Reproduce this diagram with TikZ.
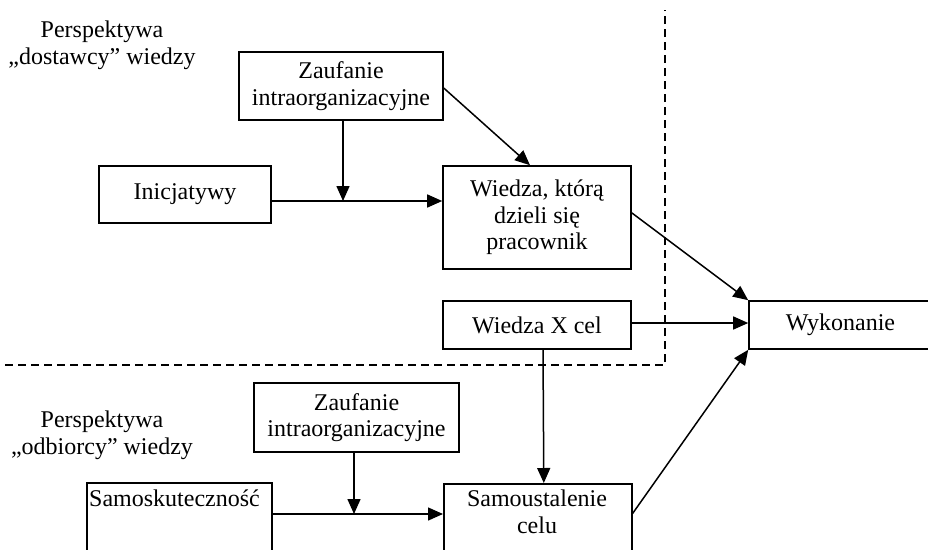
\documentclass[tikz,border=0pt]{standalone}
\usepackage{fontspec}
\setmainfont{Liberation Serif}
\usetikzlibrary{arrows.meta,calc}
\begin{document}
\begin{tikzpicture}[x=1pt,y=-1pt,
  box/.style={draw,line width=1.6pt,inner sep=0pt,align=center,font=\fontsize{24}{26.5}\selectfont},
  lbl/.style={inner sep=0pt,align=center,font=\fontsize{24}{26.5}\selectfont},
  arr/.style={line width=1.5pt,-{Triangle[length=15pt,width=13pt]}},
  sep/.style={line width=1.5pt,dash pattern=on 8pt off 5pt}]
\useasboundingbox (0,0) rectangle (928,549);
\clip (0,0) rectangle (928,549);
% labels
\node[lbl,anchor=north] (pd) at (102,21) {Perspektywa\\„dostawcy” wiedzy};
\node[lbl,anchor=north] (po) at (102,411) {Perspektywa\\„odbiorcy” wiedzy};
% boxes
\node[box,minimum width=204pt,minimum height=68pt] (zt) at (341,86) {Zaufanie\\intraorganizacyjne};
\node[box,minimum width=172pt,minimum height=57pt] (ini) at (185,194.5) {Inicjatywy};
\node[box,minimum width=188pt,minimum height=103pt] (wk) at (537,217.5) {Wiedza, którą\\dzieli się\\pracownik};
\node[box,minimum width=188pt,minimum height=48pt] (wx) at (537,325) {Wiedza X cel};
\node[box,minimum width=183pt,minimum height=48pt] (wyk) at (840.5,325) {Wykonanie};
\node[box,minimum width=205pt,minimum height=69pt] (zb) at (356.5,417.5) {Zaufanie\\intraorganizacyjne};
\node[box,minimum width=185pt,minimum height=100pt,anchor=north west] (sk) at (86,482) {};
\node[lbl,anchor=base west] (skt) at (89,506) {Samoskuteczność};
\node[box,minimum width=188pt,minimum height=100pt,anchor=north west] (so) at (443,483) {};
\node[lbl,anchor=north] (sot) at (537,490) {Samoustalenie\\celu};
% junctions
\coordinate (j1) at (343,201);
\coordinate (j2) at (354,514);
% separators
\draw[sep] (5,365) -- (665,365) -- (665,10);
% connectors
\draw[arr] (zt.south -| j1) -- (j1);
\draw[arr] (ini.east |- j1) -- (wk.west |- j1);
\draw[arr] ($(zt.north east)!0.53!(zt.south east)$) -- ($(wk.north west)!0.463!(wk.north east)$);
\draw[arr] ($(wk.north east)!0.456!(wk.south east)$) -- (wyk.north west);
\draw[arr] ([yshift=2pt]wx.east) -- ([yshift=2pt]wyk.west);
\draw[arr] ([xshift=6pt]wx.south) -- ([xshift=6pt]so.north);
\draw[arr] (zb.south -| j2) -- (j2);
\draw[arr] (sk.east |- j2) -- (so.west |- j2);
\draw[arr] ($(so.north east)!0.3!(so.south east)$) -- (wyk.south west);
\end{tikzpicture}
\end{document}
